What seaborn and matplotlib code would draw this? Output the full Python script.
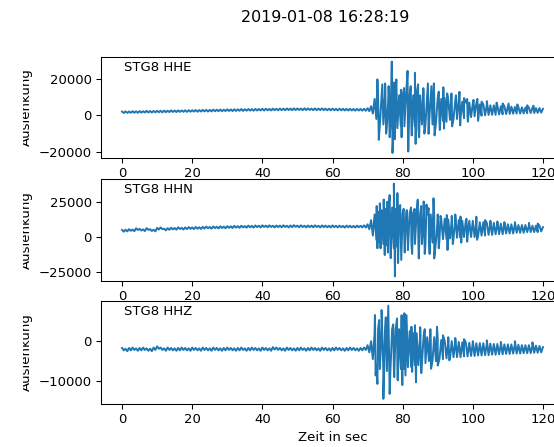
import matplotlib
matplotlib.use("Agg")
import matplotlib.pyplot as plt
from matplotlib.transforms import Bbox, TransformedBbox
import seaborn as sns
import pandas as pd

# ---------------------------------------------------------------------------
# Event / station info
# ---------------------------------------------------------------------------
event_time = "2019-01-08 16:28:19"
station = "STG8"
channels = ["HHE", "HHN", "HHZ"]
x_ticks = [0, 20, 40, 60, 80, 100, 120]
y_ticks = {"HHE": [-20000, 0, 20000], "HHN": [-25000, 0, 25000], "HHZ": [-10000, 0]}

# ---------------------------------------------------------------------------
# Trace envelopes: per-second upper / lower swing (counts), t = 0 .. 120 s
# ---------------------------------------------------------------------------
hhe_hi = [2100, 2200, 2150, 2300, 2250, 2350, 2300, 2500, 2400, 2450,
          2550, 2500, 2600, 2550, 2700, 2650, 2750, 2700, 2800, 2850,
          2800, 2950, 2900, 3000, 3050, 3000, 3150, 3100, 3200, 3150,
          3300, 3250, 3350, 3300, 3450, 3400, 3500, 3450, 3550, 3500,
          3600, 3650, 3550, 3700, 3650, 3750, 3700, 3800, 3700, 3850,
          3800, 3750, 3900, 3800, 3700, 3850, 3750, 3800, 3700, 3650,
          3700, 3600, 3650, 3600, 3550, 3600, 3500, 3550, 3500, 3600,
          3900, 5000, 9000, 11000, 11000, 12000, 12000, 13000, 12000, 11000,
          11000, 12000, 11000, 11000, 12000, 11000, 11000, 11000, 10000, 10000,
          9500, 9000, 9500, 8500, 8500, 8000, 8000, 7500, 7000, 7000,
          6500, 6500, 6000, 6000, 5800, 5500, 5500, 5300, 5000, 5000,
          4800, 4800, 4600, 4500, 4400, 4300, 4200, 4100, 4000, 4000,
          3600]
hhe_lo = [1300, 1350, 1400, 1450, 1400, 1500, 1550, 1600, 1550, 1650,
          1700, 1650, 1750, 1800, 1850, 1800, 1900, 1950, 1900, 2000,
          2050, 2000, 2100, 2150, 2100, 2200, 2250, 2300, 2250, 2350,
          2400, 2350, 2450, 2500, 2450, 2550, 2600, 2550, 2650, 2700,
          2650, 2750, 2700, 2800, 2750, 2850, 2800, 2900, 2850, 2900,
          2950, 2850, 2900, 2950, 2850, 2800, 2900, 2850, 2800, 2750,
          2800, 2700, 2750, 2700, 2650, 2700, 2600, 2650, 2600, 2500,
          2300, 1000, -2000, -5000, -5000, -6000, -6000, -7000, -7000, -6000,
          -6000, -7000, -6000, -6000, -7000, -5000, -5000, -5000, -5000, -4000,
          -4000, -3000, -3500, -2500, -2000, -2000, -1500, -1500, -1000, -1000,
          -500, -500, -200, 0, 200, 300, 300, 500, 600, 700,
          800, 900, 1000, 1000, 1100, 1200, 1300, 1300, 1400, 1500,
          1800]

hhn_hi = [5000, 5200, 5600, 5300, 6200, 5800, 5400, 6300, 5500, 5200,
          6500, 6800, 5900, 6300, 6600, 6400, 6900, 6500, 6800, 7000,
          6800, 7100, 6900, 7200, 7400, 7100, 7500, 7300, 7600, 7400,
          7700, 7600, 7900, 7700, 8000, 7800, 8100, 7900, 8200, 8000,
          8300, 8100, 8300, 8000, 8200, 8100, 8300, 8000, 8200, 8400,
          8100, 8300, 8000, 8200, 8100, 8300, 8000, 8200, 8100, 8000,
          8200, 8000, 8100, 7900, 8100, 8000, 7900, 8100, 8000, 8300,
          9000, 12000, 16000, 18000, 19000, 20000, 21000, 21000, 20000, 18000,
          17000, 17000, 17000, 17000, 18000, 17000, 17000, 16000, 16000, 15000,
          14000, 13000, 13000, 12500, 12500, 12000, 12000, 11500, 11500, 11500,
          11500, 11000, 10500, 10500, 10000, 10000, 10000, 9500, 9500, 9500,
          9000, 9000, 9000, 8500, 8500, 8500, 8000, 8000, 8000, 8000,
          7000]
hhn_lo = [3800, 4000, 4400, 4100, 5000, 4600, 4200, 5100, 4300, 4000,
          5300, 5600, 4700, 5100, 5400, 5200, 5700, 5300, 5600, 5800,
          5600, 5900, 5700, 6000, 6200, 5900, 6300, 6100, 6400, 6200,
          6500, 6400, 6700, 6500, 6800, 6600, 6900, 6700, 7000, 6800,
          7100, 6900, 7100, 6800, 7000, 6900, 7100, 6800, 7000, 7200,
          6900, 7100, 6800, 7000, 6900, 7100, 6800, 7000, 6900, 6800,
          7000, 6800, 6900, 6700, 6900, 6800, 6700, 6900, 6800, 6700,
          5500, 1000, -2000, -4000, -5000, -6000, -7000, -8000, -7000, -6000,
          -5000, -5000, -5000, -5000, -6000, -5000, -5000, -4000, -4000, -3000,
          -2000, -1500, -1500, -1000, -1000, -500, -500, 0, 0, 0,
          0, 500, 1000, 1000, 1500, 1500, 2000, 2000, 2000, 2500,
          2500, 2500, 3000, 3000, 3000, 3500, 3500, 3500, 3500, 4000,
          4500]

hhz_hi = [-1700, -1900, -1700, -1600, -1800, -1700, -1600, -1800, -1900, -1600,
          -1300, -1600, -1800, -1600, -1700, -1800, -1700, -1600, -1700, -1800,
          -1600, -1700, -1800, -1600, -1700, -1800, -1600, -1700, -1800, -1700,
          -1600, -1700, -1800, -1700, -1600, -1800, -1700, -1600, -1700, -1800,
          -1600, -1700, -1800, -1500, -1600, -1700, -1800, -1600, -1700, -1800,
          -1700, -1600, -1800, -1700, -1600, -1700, -1800, -1600, -1700, -1800,
          -1700, -1600, -1700, -1800, -1700, -1600, -1700, -1800, -1700, -1600,
          -1000, 0, 2000, 3000, 3500, 3500, 3500, 3000, 3000, 3000,
          3000, 2500, 2500, 2000, 2000, 1500, 1500, 1000, 1000, 1000,
          500, 300, 0, 0, 0, -200, -200, -300, -300, -400,
          -400, -500, -500, -500, -600, -600, -700, -700, -800, -800,
          -800, -800, -900, -900, -1000, -1000, -1000, -1100, -1100, -1200,
          -1500]
hhz_lo = [-2300, -2500, -2300, -2200, -2400, -2300, -2200, -2400, -2500, -2200,
          -1900, -2200, -2400, -2200, -2300, -2400, -2300, -2200, -2300, -2400,
          -2200, -2300, -2400, -2200, -2300, -2400, -2200, -2300, -2400, -2300,
          -2200, -2300, -2400, -2300, -2200, -2400, -2300, -2200, -2300, -2400,
          -2200, -2300, -2400, -2100, -2200, -2300, -2400, -2200, -2300, -2400,
          -2300, -2200, -2400, -2300, -2200, -2300, -2400, -2200, -2300, -2400,
          -2300, -2200, -2300, -2400, -2300, -2200, -2300, -2400, -2300, -2200,
          -2800, -4500, -6000, -7000, -7500, -7500, -7500, -7000, -7000, -7000,
          -7000, -6500, -6500, -6000, -6000, -5500, -5500, -5000, -5000, -5000,
          -4500, -4500, -4300, -4300, -4000, -4000, -4000, -3800, -3800, -3700,
          -3700, -3600, -3600, -3500, -3500, -3400, -3400, -3300, -3300, -3200,
          -3200, -3100, -3100, -3100, -3000, -3000, -3000, -2900, -2900, -2800,
          -2500]

# ---------------------------------------------------------------------------
# Individual large swings during the S-wave train (time in s, counts)
# ---------------------------------------------------------------------------
hhe_spike_t = [72.8, 73.2, 74.2, 75.0, 75.3, 76.0, 76.3, 76.9, 77.1, 77.5, 77.8,
               78.2, 79.5, 79.7, 80.4, 81.4, 81.6, 82.3, 82.6, 83.5, 83.7,
               84.4, 84.7, 85.9, 86.2, 87.2, 87.4, 88.2, 88.9, 89.1, 90.3,
               90.6, 91.6, 91.8, 92.7, 93.9, 94.1, 95.2, 96.2, 96.4, 97.5,
               98.4, 98.6, 100.2, 101.3, 101.5, 102.5, 104.0, 106.8, 108.5,
               110.2, 112.7, 115.5, 117.3]
hhe_spike_v = [19700, -13400, 17000, 17500, -10000, 16000, -12000, 29500, -20600,
               18000, -13000, 19700, 14000, -12000, 15000, 24400, -19800, 16000,
               -11000, 23300, -15600, 17000, -12000, 14900, -10000, 17500, -10100,
               16000, 17500, -11000, 13000, -8000, 15400, -7300, 12000, 12000,
               -6000, 11000, 12900, -5500, 9500, 9000, -3500, 8500, 9000, -3000,
               7500, 7800, 7000, 6500, 6500, 6000, 5500, 5300]

hhn_spike_t = [72.6, 72.8, 73.5, 73.7, 74.6, 74.9, 75.6, 75.8, 76.3, 76.6,
               77.5, 77.8, 78.5, 78.7, 79.3, 79.6, 80.3, 80.6, 81.2, 81.5,
               82.4, 82.7, 83.4, 84.3, 84.6, 85.3, 86.0, 86.3, 86.8, 87.4,
               87.7, 88.8, 89.0, 90.0, 90.3, 90.8, 92.6, 92.8, 94.0, 94.3,
               95.0, 96.5, 96.7, 98.2, 98.4, 101.0, 101.2, 103.5, 105.0,
               107.0, 109.0, 112.0, 116.0, 118.5]
hhn_spike_v = [22000, -8000, 23900, -8000, 26600, -12800, 25000, -11000, 29800,
               -15000, 37900, -27950, 31200, -18500, 22700, -16300, 20000, -11000,
               19100, -9300, 21000, -12000, 20000, 26500, -15200, 22000, 25200,
               -12000, 23000, 20500, -12000, 27500, -15200, 16000, -8000, 15000,
               15600, -9200, 15000, -5000, 16000, 14500, -4000, 13000, -3300,
               14400, -2000, 12000, 11500, 11000, 10500, 10500, 10000, 9500]

hhz_spike_t = [72.1, 72.3, 72.8, 73.3, 74.0, 74.5, 75.2, 75.9, 76.3, 77.3,
               77.6, 78.4, 78.6, 79.7, 79.9, 80.5, 80.8, 81.1, 82.5, 82.7,
               83.5, 83.8, 85.0, 85.3, 86.3, 87.9, 88.1, 89.8, 90.0, 91.5,
               93.0, 93.3, 95.0, 97.5, 100.0, 104.0, 108.0, 112.0, 117.0]
hhz_spike_v = [6550, -8600, -10700, 5300, 7800, -14450, 6000, 8900, -13200, 4200,
               -9000, 5700, -9800, 6500, -11000, 7000, -8600, 6500, 3600, -7700,
               4000, -10300, 3500, -8000, 3000, 3000, -6900, 3600, -6100, 1500,
               1000, -4800, 800, 500, 0, 200, -200, 0, -300]

traces = {
    "HHE": (hhe_hi, hhe_lo, hhe_spike_t, hhe_spike_v),
    "HHN": (hhn_hi, hhn_lo, hhn_spike_t, hhn_spike_v),
    "HHZ": (hhz_hi, hhz_lo, hhz_spike_t, hhz_spike_v),
}


def trace_frame(hi, lo, spike_t, spike_v):
    """Alternate upper and lower swings each second and merge the big swings."""
    rows = []
    for sec, (h, l) in enumerate(zip(hi, lo)):
        rows.append((float(sec), h))
        if sec < len(hi) - 1:
            rows.append((sec + 0.5, l))
    rows += list(zip(spike_t, spike_v))
    rows.sort(key=lambda r: r[0])
    return pd.DataFrame(rows, columns=["t", "counts"])


W, H, DPI = 554, 447, 95
fig = plt.figure(figsize=(W / DPI, H / DPI), dpi=DPI)

# axes boxes in pixels: (top, bottom)
boxes = [(57, 157.5), (179, 281), (301, 403.5)]
left_px, width_px = 101, 463
label_clip = TransformedBbox(Bbox.from_extents(23 / W, 0, 1, 1), fig.transFigure)

axes = []
for ch, (top, bottom) in zip(channels, boxes):
    ax = fig.add_axes([left_px / W, 1 - bottom / H, width_px / W, (bottom - top) / H])
    hi, lo, st, sv = traces[ch]
    df = trace_frame(hi, lo, st, sv)
    sns.lineplot(data=df, x="t", y="counts", ax=ax, estimator=None, sort=False,
                 color="#1f77b4", linewidth=1.5)
    ax.set_xlim(-6, 126)
    ax.set_xticks(x_ticks)
    ax.set_yticks(y_ticks[ch])
    ax.set_xlabel("")
    ax.set_ylabel("Auslenkung")
    ax.yaxis.set_label_coords(-0.148, 0.5)
    ax.yaxis.label.set_clip_on(True)
    ax.yaxis.label.set_clip_box(label_clip)
    ax.text(0.05, 0.9, f"{station} {ch}", transform=ax.transAxes,
            ha="left", va="center", fontsize=10)
    axes.append(ax)

axes[-1].set_xlabel("Zeit in sec")
fig.text(325 / W, 1 - 17 / H, event_time, ha="center", va="center", fontsize=12)

fig.savefig("out.png", dpi=DPI)
